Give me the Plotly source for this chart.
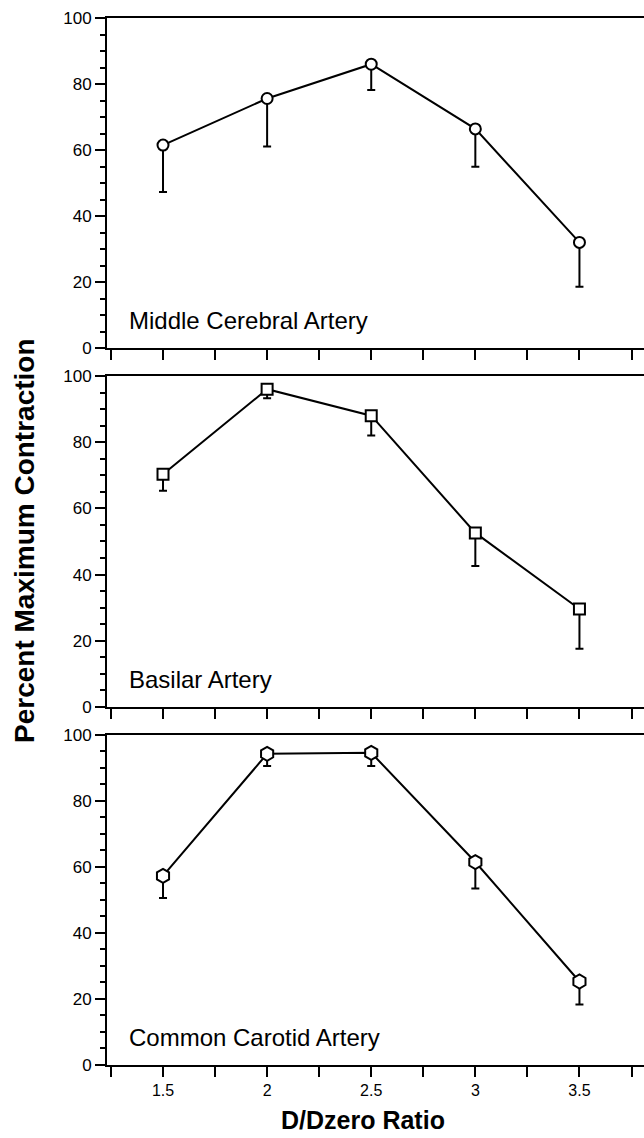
import plotly.graph_objects as go
from plotly.subplots import make_subplots

ratio = [1.5, 2.0, 2.5, 3.0, 3.5]

mca_mean = [61.5, 75.6, 86.0, 66.4, 32.0]
mca_err = [14.2, 14.5, 7.8, 11.5, 13.4]

bas_mean = [70.3, 96.0, 88.0, 52.6, 29.6]
bas_err = [5.0, 2.7, 6.0, 10.0, 12.0]

cca_mean = [57.3, 94.3, 94.6, 61.5, 25.3]
cca_err = [6.7, 3.7, 4.0, 8.0, 7.0]

panel_names = ["Middle Cerebral Artery", "Basilar Artery", "Common Carotid Artery"]
symbols = ["circle", "square", "hexagon"]
marker_sizes = [11, 11, 14]
means = [mca_mean, bas_mean, cca_mean]
errs = [mca_err, bas_err, cca_err]

y_tick_vals = [0, 20, 40, 60, 80, 100]
x_tick_vals = [1.5, 2, 2.5, 3, 3.5]
x_tick_text = ["1.5", "2", "2.5", "3", "3.5"]

FONT = "Liberation Sans, Arial, Helvetica, sans-serif"

fig = make_subplots(rows=3, cols=1)

for i in range(3):
    fig.add_trace(
        go.Scatter(
            x=ratio,
            y=means[i],
            mode="lines+markers",
            line=dict(color="black", width=2),
            marker=dict(symbol=symbols[i], size=marker_sizes[i], color="white",
                        line=dict(color="black", width=2)),
            error_y=dict(type="data", symmetric=False, array=[0] * 5,
                         arrayminus=errs[i], color="black", thickness=2, width=4),
            showlegend=False,
        ),
        row=i + 1, col=1,
    )

domains = [[0.6848, 1.0], [0.3419, 0.6581], [0.0, 0.3152]]
for i in range(3):
    xa = "xaxis" if i == 0 else f"xaxis{i + 1}"
    ya = "yaxis" if i == 0 else f"yaxis{i + 1}"
    fig.layout[ya].update(
        domain=domains[i], range=[0, 100], tickvals=y_tick_vals,
        showline=True, linecolor="black", linewidth=2,
        ticks="outside", ticklen=10, tickwidth=2, tickcolor="black",
        minor=dict(dtick=5, tick0=0, ticks="outside", ticklen=5, tickwidth=1.5, tickcolor="black"),
        showgrid=False, zeroline=False,
        tickfont=dict(family=FONT, size=17, color="black"),
    )
    fig.layout[xa].update(
        range=[1.231, 3.81], tickvals=x_tick_vals, ticktext=x_tick_text,
        showline=True, linecolor="black", linewidth=2, mirror=True,
        ticks="outside", ticklen=10, tickwidth=2, tickcolor="black",
        minor=dict(tickvals=[1.25, 1.75, 2.25, 2.75, 3.25, 3.75], ticks="outside",
                   ticklen=10, tickwidth=2, tickcolor="black"),
        showgrid=False, zeroline=False,
        showticklabels=(i == 2),
        tickfont=dict(family=FONT, size=16, color="black"),
    )
    fig.add_annotation(
        text=panel_names[i], xref=f"x{'' if i == 0 else i + 1} domain",
        yref=f"y{'' if i == 0 else i + 1} domain",
        x=0.038, y=0.035, xanchor="left", yanchor="bottom", showarrow=False,
        font=dict(family=FONT, size=24, color="black"),
    )

fig.add_annotation(
    text="<b>Percent Maximum Contraction</b>", xref="paper", yref="paper",
    x=-0.1546, y=0.5014, xanchor="center", yanchor="middle", textangle=-90,
    showarrow=False,
    font=dict(family=FONT, size=28, color="black"),
)
fig.add_annotation(
    text="<b>D/Dzero Ratio</b>", xref="paper", yref="paper",
    x=0.476, y=-0.0525, xanchor="center", yanchor="middle", showarrow=False,
    font=dict(family=FONT, size=25, color="black"),
)

fig.update_layout(
    width=644, height=1138,
    margin=dict(l=107, r=0, t=18, b=73),
    paper_bgcolor="white", plot_bgcolor="white",
    font=dict(family=FONT, color="black"),
)

fig.write_html("out.html")
